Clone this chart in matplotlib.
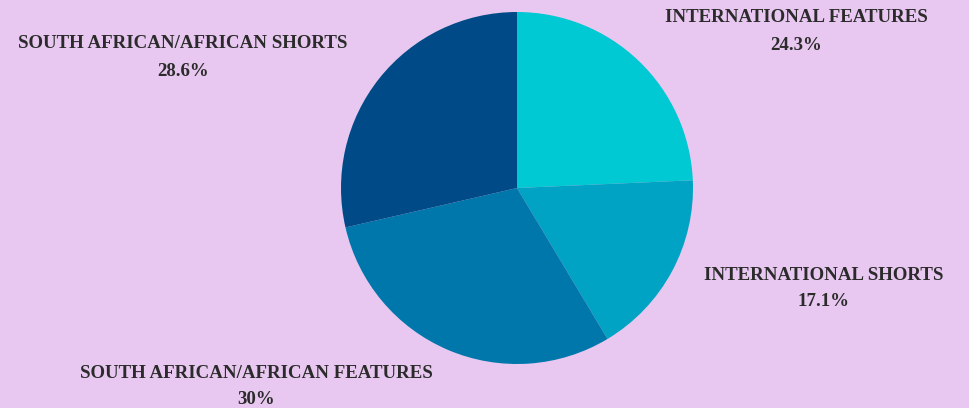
import matplotlib.pyplot as plt

# slice data, clockwise from 12 o'clock
categories = ["INTERNATIONAL FEATURES", "INTERNATIONAL SHORTS",
              "SOUTH AFRICAN/AFRICAN FEATURES", "SOUTH AFRICAN/AFRICAN SHORTS"]
shares = [24.3, 17.1, 30.0, 28.6]
pct_labels = ["24.3%", "17.1%", "30%", "28.6%"]
colors = ["#00C9D3", "#00A3C3", "#0077AB", "#004B87"]

# label anchor points in pixels (x, y from top) for name and percentage
label_pos = [(796, 18, 46), (824, 276, 302), (256, 374, 399), (183, 43, 72)]

W, H = 969, 408
bg = "#E8C8F0"

fig = plt.figure(figsize=(W / 100, H / 100), dpi=100, facecolor=bg)
cx, cy, r = 517, 188, 176
ax = fig.add_axes([(cx - r) / W, 1 - (cy + r) / H, 2 * r / W, 2 * r / H])
ax.set_facecolor(bg)
ax.pie(shares, colors=colors, startangle=90, counterclock=False,
       wedgeprops=dict(linewidth=0), radius=1)
ax.set_xlim(-1, 1)
ax.set_ylim(-1, 1)
ax.set_aspect("equal")
ax.axis("off")

font = dict(family="Liberation Serif", weight="bold", color="#2B2B2B", fontsize=13.6)
for name, pct, (x, y1, y2) in zip(categories, pct_labels, label_pos):
    fig.text(x / W, 1 - y1 / H, name, ha="center", va="center", **font)
    fig.text(x / W, 1 - y2 / H, pct, ha="center", va="center", **font)

fig.savefig("out.png", dpi=100, facecolor=bg)
